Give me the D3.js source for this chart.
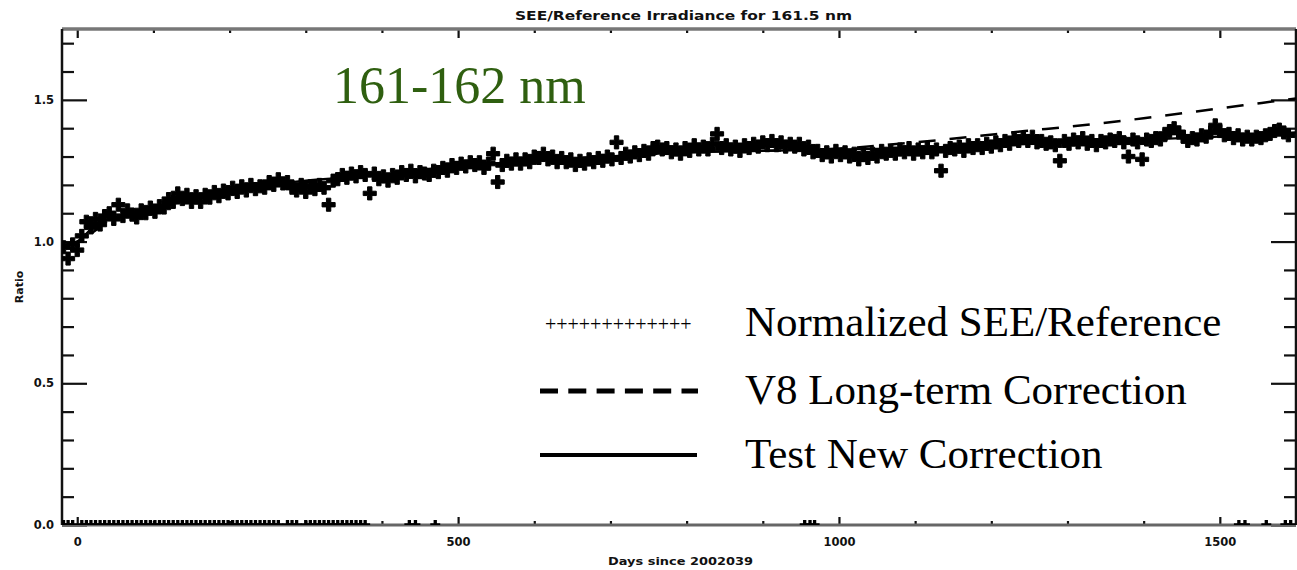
<!DOCTYPE html>
<html>
<head>
<meta charset="utf-8">
<script src="https://cdn.jsdelivr.net/npm/d3@7"></script>
<style>
  body { margin: 0; background: #fff; }
  svg { display: block; }
</style>
</head>
<body>
<svg></svg>
<script>
// ratio samples, one every 6 days starting at day -18
const dayStart = -18;
const dayStep = 6;
const ratioValues = [
  0.98, 0.94, 0.99, 0.97, 1.02, 1.07, 1.05, 1.08, 1.06, 1.09,
  1.10, 1.08, 1.13, 1.09, 1.11, 1.095, 1.085, 1.11, 1.10, 1.12,
  1.105, 1.125, 1.12, 1.15, 1.14, 1.17, 1.15, 1.165, 1.14, 1.16,
  1.14, 1.165, 1.155, 1.175, 1.16, 1.18, 1.17, 1.19, 1.175, 1.195,
  1.18, 1.20, 1.185, 1.195, 1.19, 1.21, 1.20, 1.22, 1.205, 1.21,
  1.19, 1.18, 1.20, 1.175, 1.195, 1.185, 1.20, 1.19, 1.13, 1.215,
  1.22, 1.235, 1.225, 1.24, 1.23, 1.245, 1.235, 1.17, 1.24, 1.22,
  1.23, 1.215, 1.235, 1.225, 1.245, 1.235, 1.25, 1.23, 1.245, 1.24,
  1.235, 1.25, 1.245, 1.26, 1.25, 1.27, 1.26, 1.275, 1.265, 1.28,
  1.27, 1.28, 1.26, 1.275, 1.31, 1.21, 1.27, 1.285, 1.275, 1.29,
  1.275, 1.29, 1.28, 1.30, 1.295, 1.31, 1.29, 1.30, 1.28, 1.295,
  1.28, 1.29, 1.27, 1.285, 1.275, 1.29, 1.28, 1.295, 1.285, 1.30,
  1.29, 1.35, 1.295, 1.31, 1.30, 1.315, 1.305, 1.32, 1.31, 1.33,
  1.335, 1.325, 1.33, 1.315, 1.325, 1.31, 1.33, 1.32, 1.34, 1.325,
  1.335, 1.325, 1.345, 1.38, 1.33, 1.34, 1.325, 1.335, 1.32, 1.34,
  1.33, 1.345, 1.335, 1.35, 1.34, 1.355, 1.34, 1.35, 1.335, 1.345,
  1.335, 1.345, 1.325, 1.335, 1.315, 1.32, 1.305, 1.315, 1.30, 1.32,
  1.305, 1.315, 1.30, 1.31, 1.29, 1.305, 1.295, 1.31, 1.30, 1.32,
  1.31, 1.32, 1.31, 1.325, 1.315, 1.33, 1.31, 1.325, 1.315, 1.33,
  1.315, 1.325, 1.25, 1.32, 1.33, 1.325, 1.335, 1.32, 1.34, 1.33,
  1.34, 1.33, 1.345, 1.335, 1.35, 1.34, 1.355, 1.345, 1.365, 1.355,
  1.365, 1.355, 1.37, 1.35, 1.355, 1.345, 1.35, 1.34, 1.285, 1.355,
  1.345, 1.36, 1.35, 1.365, 1.345, 1.355, 1.34, 1.355, 1.35, 1.36,
  1.355, 1.365, 1.35, 1.30, 1.36, 1.35, 1.29, 1.36, 1.355, 1.365,
  1.36, 1.38, 1.39, 1.40, 1.385, 1.37, 1.355, 1.365, 1.36, 1.375,
  1.37, 1.385, 1.41, 1.39, 1.375, 1.38, 1.365, 1.375, 1.36, 1.37,
  1.36, 1.37, 1.365, 1.375, 1.38, 1.39, 1.395, 1.385, 1.375
];

// days where the ratio came out as zero (drawn on the x axis)
const zeroDays = [
  -18, -12, -6, 6, 12, 18, 24, 30, 36, 42, 48, 54, 60, 66, 72, 78, 84, 90,
  96, 102, 108, 114, 120, 126, 132, 138, 144, 150, 156, 162, 168, 174, 180,
  186, 192, 198, 204, 210, 216, 222, 228, 234, 240, 246, 252, 258, 264, 276,
  282, 288, 300, 306, 312, 318, 324, 330, 336, 342, 348, 354, 360, 366, 372,
  378, 436, 444, 470, 955, 962, 968, 1525, 1533, 1561, 1586, 1593
];

// V8 long-term correction
const v8Days = [-18, 0, 50, 100, 200, 300, 400, 500, 600, 700, 800, 900, 1000, 1050, 1100, 1168, 1244, 1300, 1400, 1500, 1600];
const v8Ratio = [0.985, 1.0, 1.085, 1.12, 1.175, 1.21, 1.24, 1.265, 1.285, 1.30, 1.315, 1.32, 1.328, 1.338, 1.35, 1.368, 1.39, 1.405, 1.435, 1.47, 1.505];

// test new correction
const newDays = [-18, 0, 25, 50, 100, 150, 200, 250, 300, 350, 400, 500, 600, 700, 800, 900, 1000, 1100, 1200, 1300, 1400, 1500, 1600];
const newRatio = [0.985, 1.0, 1.06, 1.085, 1.115, 1.15, 1.175, 1.20, 1.215, 1.225, 1.235, 1.265, 1.285, 1.30, 1.315, 1.32, 1.325, 1.33, 1.34, 1.35, 1.36, 1.37, 1.385];

const xMajorTicks = [0, 500, 1000, 1500];
const xMinorTicks = [100, 200, 300, 400, 600, 700, 800, 900, 1100, 1200, 1300, 1400, 1600];
const yMajorTicks = [0, 0.5, 1.0, 1.5];
const yMinorTicks = [0.1, 0.2, 0.3, 0.4, 0.6, 0.7, 0.8, 0.9, 1.1, 1.2, 1.3, 1.4, 1.6, 1.7];

const legendItems = ["Normalized SEE/Reference", "V8 Long-term Correction", "Test New Correction"];

const drawChart = () => {
  const svg = d3.select("svg").attr("width", 1297).attr("height", 570);

  const margin = { top: 29, right: 1, bottom: 45, left: 62 };
  const width = +svg.attr("width");
  const height = +svg.attr("height");
  const innerWidth = width - margin.left - margin.right;
  const innerHeight = height - margin.top - margin.bottom;

  const xScale = d3.scaleLinear().domain([-20, 1600]).range([0, innerWidth]);
  const yScale = d3.scaleLinear().domain([0, 1.75]).range([innerHeight, 0]);

  const g = svg.append("g").attr("transform", `translate(${margin.left}, ${margin.top})`);

  g.append("clipPath")
    .attr("id", "plot-clip")
    .append("rect")
    .attr("width", innerWidth)
    .attr("height", innerHeight);

  const tickFont = "DejaVu Sans, sans-serif";

  //Bottom axis
  const bottom = g.append("g")
    .attr("transform", `translate(0, ${innerHeight})`)
    .call(d3.axisBottom(xScale).tickValues(xMajorTicks).tickSize(-8).tickPadding(13).tickFormat(d3.format("d")));
  bottom.append("g").call(d3.axisBottom(xScale).tickValues(xMinorTicks).tickSize(-4).tickFormat(""));

  //Top axis
  const top = g.append("g")
    .call(d3.axisTop(xScale).tickValues(xMajorTicks).tickSize(-9).tickFormat(""));
  top.append("g").call(d3.axisTop(xScale).tickValues(xMinorTicks).tickSize(-4).tickFormat(""));

  //Left axis
  const left = g.append("g")
    .call(d3.axisLeft(yScale).tickValues(yMajorTicks).tickSize(-25).tickPadding(8).tickFormat(d3.format(".1f")));
  left.append("g").call(d3.axisLeft(yScale).tickValues(yMinorTicks).tickSize(-12).tickFormat(""));

  //Right axis
  const right = g.append("g")
    .attr("transform", `translate(${innerWidth}, 0)`)
    .call(d3.axisRight(yScale).tickValues(yMajorTicks).tickSize(-25).tickFormat(""));
  right.append("g").call(d3.axisRight(yScale).tickValues(yMinorTicks).tickSize(-12).tickFormat(""));

  g.selectAll(".domain").remove();
  g.selectAll(".tick line").attr("stroke", "#111").attr("stroke-width", 2.2);
  g.selectAll(".tick text")
    .attr("fill", "#111")
    .style("font-family", tickFont)
    .style("font-weight", "bold")
    .style("font-size", "11.5px");

  //Frame
  g.append("line").attr("x1", 0).attr("x2", innerWidth).attr("y1", 0).attr("y2", 0)
    .attr("stroke", "#777").attr("stroke-width", 3.5);
  g.append("line").attr("x1", 0).attr("x2", innerWidth).attr("y1", innerHeight).attr("y2", innerHeight)
    .attr("stroke", "#666").attr("stroke-width", 3);
  g.append("line").attr("x1", 0).attr("x2", 0).attr("y1", 0).attr("y2", innerHeight)
    .attr("stroke", "#111").attr("stroke-width", 2.5);
  g.append("line").attr("x1", innerWidth).attr("x2", innerWidth).attr("y1", 0).attr("y2", innerHeight)
    .attr("stroke", "#111").attr("stroke-width", 2.5);

  const plot = g.append("g").attr("clip-path", "url(#plot-clip)");

  //Data points
  const dataset = ratioValues.map((v, i) => [dayStart + i * dayStep, v]);
  const cross = d3.symbol().type(d3.symbolCross).size(95);
  const smallCross = d3.symbol().type(d3.symbolCross).size(55);

  plot.selectAll(".pt")
    .data(dataset)
    .enter()
    .append("path")
    .attr("class", "pt")
    .attr("d", cross)
    .attr("transform", (d) => `translate(${xScale(d[0])}, ${yScale(d[1])})`)
    .attr("fill", "#000")
    .attr("stroke", "#000")
    .attr("stroke-width", 1)
    .attr("stroke-linejoin", "round");

  plot.selectAll(".zero")
    .data(zeroDays)
    .enter()
    .append("path")
    .attr("class", "zero")
    .attr("d", smallCross)
    .attr("transform", (d) => `translate(${xScale(d)}, ${yScale(0)})`)
    .attr("fill", "#000");

  //Correction curves
  const line = d3.line()
    .x((d) => xScale(d[0]))
    .y((d) => yScale(d[1]))
    .curve(d3.curveMonotoneX);

  plot.append("path")
    .datum(v8Days.map((d, i) => [d, v8Ratio[i]]))
    .attr("d", line)
    .attr("fill", "none")
    .attr("stroke", "#000")
    .attr("stroke-width", 2.5)
    .attr("stroke-dasharray", "17,14");

  plot.append("path")
    .datum(newDays.map((d, i) => [d, newRatio[i]]))
    .attr("d", line)
    .attr("fill", "none")
    .attr("stroke", "#000")
    .attr("stroke-width", 2.2);

  //Title and axis labels
  svg.append("text")
    .attr("x", 515)
    .attr("y", 20)
    .attr("textLength", 337)
    .attr("lengthAdjust", "spacingAndGlyphs")
    .style("font-family", tickFont)
    .style("font-weight", "bold")
    .style("font-size", "12px")
    .attr("fill", "#111")
    .text("SEE/Reference Irradiance for 161.5 nm");

  svg.append("text")
    .attr("x", 608)
    .attr("y", 565)
    .attr("textLength", 145)
    .attr("lengthAdjust", "spacingAndGlyphs")
    .style("font-family", tickFont)
    .style("font-weight", "bold")
    .style("font-size", "11px")
    .attr("fill", "#111")
    .text("Days since 2002039");

  svg.append("text")
    .attr("transform", "translate(23, 287) rotate(-90)")
    .attr("text-anchor", "middle")
    .style("font-family", tickFont)
    .style("font-weight", "bold")
    .style("font-size", "11px")
    .attr("fill", "#111")
    .text("Ratio");

  //Band annotation
  svg.append("text")
    .attr("x", 333)
    .attr("y", 103)
    .style("font-family", "Liberation Serif, Times New Roman, serif")
    .style("font-size", "52px")
    .attr("fill", "#2f5f10")
    .text("161-162 nm");

  //Legend
  const legend = svg.append("g");
  const serif = "Liberation Serif, Times New Roman, serif";

  legend.append("text")
    .attr("x", 545)
    .attr("y", 331)
    .style("font-family", serif)
    .style("font-size", "20px")
    .attr("fill", "#000")
    .text("+++++++++++++");

  legend.append("line")
    .attr("x1", 540).attr("x2", 698).attr("y1", 391).attr("y2", 391)
    .attr("stroke", "#000").attr("stroke-width", 5)
    .attr("stroke-dasharray", "18,10.3");

  legend.append("line")
    .attr("x1", 540).attr("x2", 697).attr("y1", 455).attr("y2", 455)
    .attr("stroke", "#000").attr("stroke-width", 4);

  legend.selectAll(".legend-label")
    .data(legendItems)
    .enter()
    .append("text")
    .attr("class", "legend-label")
    .attr("x", 745)
    .attr("y", (d, i) => [336, 404, 468][i])
    .style("font-family", serif)
    .style("font-size", "43px")
    .attr("fill", "#000")
    .text((d) => d);
};

document.addEventListener("DOMContentLoaded", drawChart);
</script>
</body>
</html>
